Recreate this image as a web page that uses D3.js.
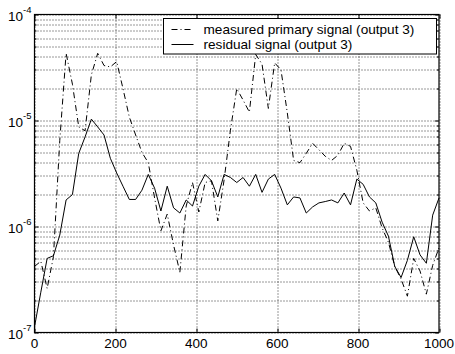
<!DOCTYPE html>
<html>
<head>
<meta charset="utf-8">
<script src="https://cdn.jsdelivr.net/npm/d3@7"></script>
<style>
  body { margin: 0; background: #fff; }
  text { font-family: "Liberation Sans", Arial, Helvetica, sans-serif; fill: #000; }
</style>
</head>
<body>
<script>
// datos (65 muestras de 0 a 1000)
var primary = [4.2e-7, 4.7e-7, 2.6e-7, 5.2e-7, 6.5e-6, 4.3e-5, 2.2e-5, 8.7e-6, 8.0e-6, 2.7e-5,
               4.3e-5, 3.3e-5, 3.2e-5, 3.6e-5, 2.0e-5, 1.08e-5, 7.3e-6, 5.0e-6, 4.0e-6, 1.86e-6,
               9.1e-7, 1.31e-6, 6.7e-7, 3.7e-7, 1.56e-6, 2.6e-6, 1.37e-6, 2.6e-6, 2.7e-6, 1.13e-6,
               2.75e-6, 8.1e-6, 2.0e-5, 1.56e-5, 1.2e-5, 4.2e-5, 3.4e-5, 1.3e-5, 3.5e-5, 3.0e-5,
               1.18e-5, 4.2e-6, 4.0e-6, 4.9e-6, 6.1e-6, 5.3e-6, 4.6e-6, 4.2e-6, 4.7e-6, 6.1e-6,
               5.7e-6, 3.4e-6, 1.67e-6, 1.4e-6, 1.5e-6, 9.7e-7, 7.1e-7, 4.2e-7, 3.2e-7, 2.2e-7,
               5.0e-7, 3.8e-7, 2.3e-7, 4.3e-7, 6.3e-7];
var residual = [1.13e-7, 2.4e-7, 5.0e-7, 5.3e-7, 8.3e-7, 1.78e-6, 2.0e-6, 4.9e-6, 7.0e-6, 1.03e-5,
                8.7e-6, 7.3e-6, 4.4e-6, 3.2e-6, 2.4e-6, 1.8e-6, 1.8e-6, 2.2e-6, 3.1e-6, 2.3e-6,
                1.4e-6, 2.4e-6, 1.5e-6, 1.34e-6, 1.78e-6, 1.56e-6, 2.4e-6, 3.1e-6, 2.7e-6, 1.9e-6,
                3.1e-6, 2.9e-6, 2.6e-6, 2.9e-6, 2.4e-6, 3.1e-6, 2.1e-6, 2.8e-6, 3.1e-6, 2.3e-6,
                1.6e-6, 1.9e-6, 1.86e-6, 1.34e-6, 1.53e-6, 1.67e-6, 1.72e-6, 1.78e-6, 1.67e-6, 2.07e-6,
                1.6e-6, 2.8e-6, 2.5e-6, 1.9e-6, 1.67e-6, 1.1e-6, 8.1e-7, 4.2e-7, 3.3e-7, 4.8e-7,
                8.0e-7, 5.4e-7, 4.5e-7, 1.28e-6, 1.86e-6];
var xs = d3.range(primary.length).map(function(i) { return i * 1000 / (primary.length - 1); });
var xTicks = [0, 200, 400, 600, 800, 1000];
var yTicks = [1e-7, 1e-6, 1e-5, 1e-4];
var legendLabels = ["measured primary signal (output 3)", "residual signal (output 3)"];

var margin = {top: 14.5, right: 16, bottom: 21.5, left: 34.5},
    width = 455 - margin.left - margin.right,
    height = 354 - margin.top - margin.bottom;

var x = d3.scaleLinear().domain([0, 1000]).range([0, width]);
var y = d3.scaleLog().domain([1e-7, 1e-4]).range([height, 0]);

var svg = d3.select("body").append("svg")
    .attr("width", 455).attr("height", 354)
  .append("g")
    .attr("transform", "translate(" + margin.left + "," + margin.top + ")");

// rejilla menor del eje logaritmico
var minor = [];
yTicks.slice(0, 3).forEach(function(b) {
  for (var k = 2; k <= 9; k++) minor.push(b * k);
});

var grid = svg.append("g").attr("stroke", "#333").attr("stroke-dasharray", "1,2").attr("stroke-width", 1);
grid.selectAll(".gy").data(yTicks.concat(minor)).enter().append("line")
    .attr("x1", 0).attr("x2", width)
    .attr("y1", function(d) { return Math.round(y(d)) + 0.5; })
    .attr("y2", function(d) { return Math.round(y(d)) + 0.5; });
grid.selectAll(".gx").data(xTicks).enter().append("line")
    .attr("y1", 0).attr("y2", height)
    .attr("x1", function(d) { return Math.round(x(d)) + 0.5; })
    .attr("x2", function(d) { return Math.round(x(d)) + 0.5; });

// marcas hacia dentro
var tk = svg.append("g").attr("stroke", "#000").attr("stroke-width", 1);
xTicks.forEach(function(d) {
  var px = Math.round(x(d)) + 0.5;
  tk.append("line").attr("x1", px).attr("x2", px).attr("y1", height).attr("y2", height - 4);
  tk.append("line").attr("x1", px).attr("x2", px).attr("y1", 0).attr("y2", 4);
});
yTicks.concat(minor).forEach(function(d) {
  var py = Math.round(y(d)) + 0.5, len = yTicks.indexOf(d) >= 0 ? 4 : 2;
  tk.append("line").attr("x1", 0).attr("x2", len).attr("y1", py).attr("y2", py);
  tk.append("line").attr("x1", width).attr("x2", width - len).attr("y1", py).attr("y2", py);
});

// lineas
var line = d3.line()
    .x(function(d, i) { return x(xs[i]); })
    .y(function(d) { return y(d); });

svg.append("path").datum(primary)
    .attr("fill", "none").attr("stroke", "#000").attr("stroke-width", 1)
    .attr("stroke-dasharray", "6,3,1,3")
    .attr("d", line);
svg.append("path").datum(residual)
    .attr("fill", "none").attr("stroke", "#000").attr("stroke-width", 1)
    .attr("d", line);

// marco
svg.append("rect").attr("x", 0).attr("y", 0).attr("width", width).attr("height", height)
    .attr("fill", "none").attr("stroke", "#000").attr("stroke-width", 1.2);

// etiquetas del eje X
svg.selectAll(".xl").data(xTicks).enter().append("text")
    .attr("x", function(d) { return x(d); })
    .attr("y", height + 15.5)
    .attr("text-anchor", "middle")
    .style("font-size", "13.5px")
    .text(function(d) { return d; });

// etiquetas del eje Y (10 con exponente)
yTicks.forEach(function(d) {
  var py = y(d);
  svg.append("text").attr("x", -11.5).attr("y", py + 6.3)
      .attr("text-anchor", "end").style("font-size", "13.5px").text("10");
  svg.append("text").attr("x", -11.5).attr("y", py - 2)
      .attr("text-anchor", "start").style("font-size", "9.5px")
      .text("-" + Math.round(-Math.log10(d)));
});

// leyenda
var lg = svg.append("g").attr("transform", "translate(" + (163.5 - margin.left) + "," + (18.5 - margin.top) + ")");
lg.append("rect").attr("width", 273).attr("height", 35.5)
    .attr("fill", "#fff").attr("stroke", "#000").attr("stroke-width", 1);
lg.append("line").attr("x1", 8).attr("x2", 30).attr("y1", 11).attr("y2", 11)
    .attr("stroke", "#000").attr("stroke-dasharray", "6,3,1,3");
lg.append("line").attr("x1", 8).attr("x2", 30).attr("y1", 26).attr("y2", 26)
    .attr("stroke", "#000");
lg.selectAll(".lt").data(legendLabels).enter().append("text")
    .attr("x", 40)
    .attr("y", function(d, i) { return 15.5 + i * 15; })
    .style("font-size", "13.6px")
    .text(function(d) { return d; });
</script>
</body>
</html>
